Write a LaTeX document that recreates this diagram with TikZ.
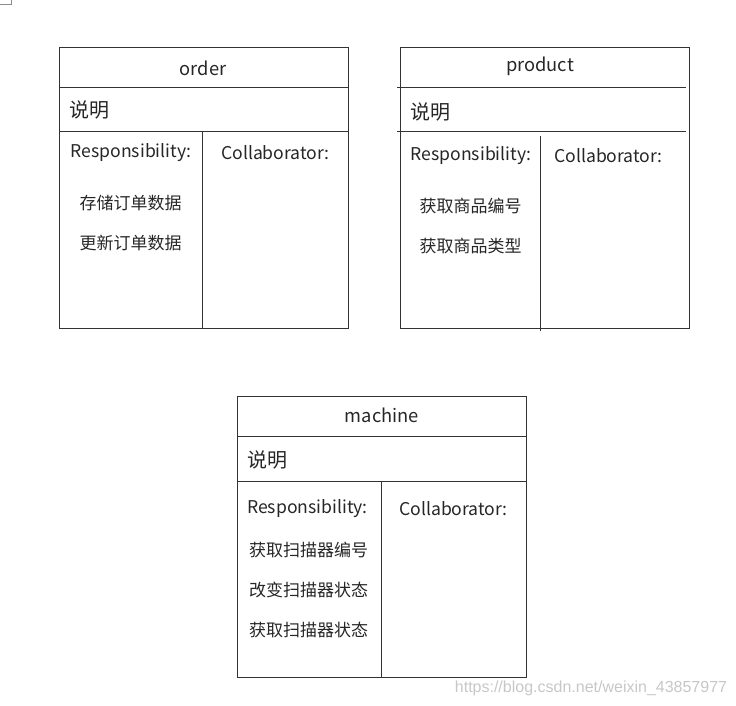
\documentclass[tikz,border=0pt]{standalone}
\usepackage{fontspec}
\setmainfont{Noto Sans CJK SC}
\newfontfamily\wmfont{Liberation Sans}
\tikzset{
  x=1pt, y=-1pt,
  card/.style={draw=black!80, line width=0.9pt},
  ttl/.style={inner sep=0pt, text=black!85, font=\fontsize{18.3}{19}\selectfont},
  hdr/.style={inner sep=0pt, yshift=-1.5pt, text=black!85, font=\fontsize{17.6}{18}\selectfont},
  note/.style={inner sep=0pt, anchor=west, text=black!85, font=\fontsize{20}{21}\selectfont},
  item/.style={inner sep=0pt, yshift=-1pt, text=black!85, font=\fontsize{17}{18}\selectfont},
  wm/.style={inner sep=0pt, text=black!22, font=\wmfont\fontsize{16}{17}\selectfont}
}
\begin{document}
\begin{tikzpicture}
\useasboundingbox (0,0) rectangle (736,706);
% corner mark
\draw[black!45, line width=0.8pt] (0,4) -- (11.7,4) -- (11.7,0);
% order card
\draw[card] (59,47.3) rectangle (348.3,328.3);
\draw[card] (59,87.3) -- (348.3,87.3);
\draw[card] (59,131.7) -- (348.3,131.7);
\draw[card] (202.7,131.7) -- (202.7,328.3);
\node[ttl] (o-title) at (203,68) {order};
\node[note] (o-note) at (69,109.5) {说明};
\node[hdr] (o-resp) at (131,151) {Responsibility:};
\node[hdr] (o-coll) at (275.5,151) {Collaborator:};
\node[item] (o-i1) at (130.5,202) {存储订单数据};
\node[item] (o-i2) at (130.5,242) {更新订单数据};
% product card
\draw[card] (400.7,47.3) rectangle (689,328.3);
\draw[card] (397,87.3) -- (685.5,87.3);
\draw[card] (397,131.7) -- (685.5,131.7);
\draw[card] (540.7,136) -- (540.7,330.7);
\node[ttl] (p-title) at (540,66) {product};
\node[note] (p-note) at (410,112) {说明};
\node[hdr] (p-resp) at (471,154) {Responsibility:};
\node[hdr] (p-coll) at (608.5,154) {Collaborator:};
\node[item] (p-i1) at (470.5,205) {获取商品编号};
\node[item] (p-i2) at (470.5,245) {获取商品类型};
% machine card
\draw[card] (237.3,396.7) rectangle (526.7,677.3);
\draw[card] (237.3,436.7) -- (526.7,436.7);
\draw[card] (237.3,481) -- (526.7,481);
\draw[card] (381.7,481) -- (381.7,677.3);
\node[ttl] (m-title) at (382,415) {machine};
\node[note] (m-note) at (247,459.5) {说明};
\node[hdr] (m-resp) at (307.5,507) {Responsibility:};
\node[hdr] (m-coll) at (453.5,507) {Collaborator:};
\node[item] (m-i1) at (308.5,549) {获取扫描器编号};
\node[item] (m-i2) at (308.5,589) {改变扫描器状态};
\node[item] (m-i3) at (308.5,629) {获取扫描器状态};
% watermark
\node[wm] (wm) at (591,688) {https://blog.csdn.net/weixin\_43857977};
\end{tikzpicture}
\end{document}
